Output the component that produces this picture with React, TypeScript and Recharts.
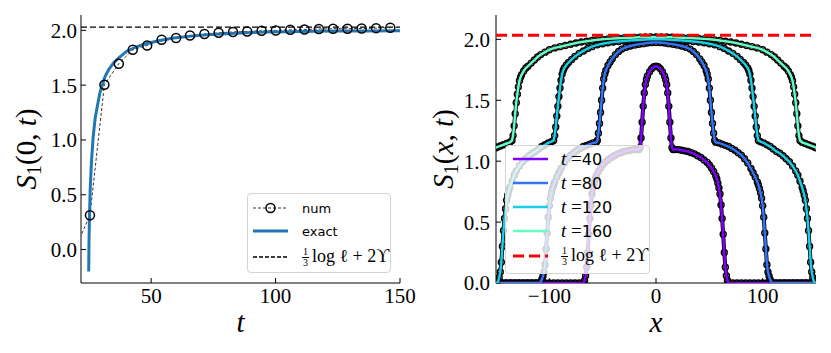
import React from 'react';
import { LineChart, Line, XAxis, YAxis, ReferenceLine } from 'recharts';

const SERIF = '"Liberation Serif", "DejaVu Serif", serif';
const SANS = '"DejaVu Sans", sans-serif';

// ---- left panel: S1(0,t) ----
const numT = [19.65, 25.4, 31.2, 37.0, 42.6, 48.4, 54.2, 60.0, 65.6, 71.4, 77.1, 82.9, 88.6, 94.4, 100.1, 105.9, 111.6, 117.4, 123.1, 128.9, 134.6, 140.4, 146.1];
const numS = [0.02, 0.313, 1.504, 1.696, 1.823, 1.862, 1.914, 1.93, 1.953, 1.966, 1.978, 1.985, 1.99, 1.996, 1.999, 2.005, 2.008, 2.012, 2.015, 2.015, 2.017, 2.02, 2.024];
const exactT = [24.9, 25.0, 25.2, 25.5, 26.0, 26.7, 27.5, 28.3, 29.4, 30.5, 31.5, 33, 34.8, 37, 40.2, 44, 48.3, 53, 59, 65, 72.5, 80, 88, 96, 105, 115, 125, 137, 150];
const exactS = [-0.2, 0.05, 0.3, 0.55, 0.8, 1.03, 1.2, 1.3, 1.43, 1.51, 1.58, 1.645, 1.7, 1.75, 1.81, 1.85, 1.88, 1.905, 1.93, 1.945, 1.96, 1.97, 1.978, 1.984, 1.988, 1.991, 1.993, 1.995, 1.996];
const asymLeft = 2.03;
const leftXDomain = [21.8, 150];
const leftYDomain = [-0.305, 2.14];
const leftXTicks = [50, 100, 150];
const yTicks = [0, 0.5, 1, 1.5, 2];

// ---- right panel: S1(x,t), half profiles for x >= 0 (profiles are symmetric) ----
const halfT40: [number, number][] = [
  [0, 1.78], [2, 1.775], [4, 1.76], [6, 1.735], [8, 1.7], [9, 1.67], [10, 1.63], [11, 1.56], [12, 1.45], [13, 1.32], [14, 1.19], [15, 1.11],
  [16, 1.095], [18, 1.095], [21, 1.095], [24, 1.09], [27, 1.085], [30, 1.08], [33, 1.07], [36, 1.06], [39, 1.045], [42, 1.03], [45, 1.01],
  [48, 0.99], [50, 0.97], [52, 0.945], [54, 0.915], [56, 0.88], [57, 0.855], [58, 0.82], [59, 0.78], [60, 0.73], [61, 0.64], [62, 0.53],
  [63, 0.4], [64, 0.25], [65, 0.13], [66, 0.06], [67, 0.02], [68, 0], [72, 0], [76, 0], [80, 0], [84, 0], [88, 0], [92, 0], [96, 0],
  [100, 0], [104, 0], [108, 0], [112, 0], [116, 0], [120, 0], [124, 0], [128, 0], [132, 0], [136, 0], [140, 0], [144, 0], [148, 0], [150, 0],
];
const halfT80: [number, number][] = [
  [0, 1.975], [4, 1.974], [8, 1.97], [12, 1.965], [16, 1.96], [20, 1.953], [24, 1.945], [28, 1.935], [32, 1.92], [35, 1.9], [38, 1.875],
  [41, 1.84], [43, 1.815], [45, 1.785], [47, 1.745], [48, 1.715], [49, 1.675], [50, 1.6], [51, 1.5], [52, 1.4], [53, 1.31], [54, 1.23],
  [55, 1.17], [56, 1.155], [59, 1.15], [62, 1.14], [65, 1.13], [68, 1.12], [71, 1.105], [74, 1.09], [77, 1.07], [80, 1.05], [83, 1.02],
  [86, 0.985], [89, 0.94], [91, 0.905], [93, 0.87], [95, 0.83], [96, 0.805], [97, 0.775], [98, 0.74], [99, 0.695], [100, 0.635], [101, 0.54],
  [102, 0.41], [103, 0.28], [104, 0.15], [105, 0.09], [106, 0.055], [107, 0.03], [108, 0.01], [109, 0], [113, 0], [117, 0], [121, 0],
  [125, 0], [129, 0], [133, 0], [137, 0], [141, 0], [145, 0], [149, 0], [150, 0],
];
const halfT120: [number, number][] = [
  [0, 2.0], [5, 2.0], [10, 1.998], [15, 1.995], [20, 1.993], [25, 1.99], [30, 1.987], [35, 1.983], [40, 1.978], [45, 1.972], [50, 1.964],
  [55, 1.955], [60, 1.94], [64, 1.925], [68, 1.905], [72, 1.885], [76, 1.86], [79, 1.835], [82, 1.81], [84, 1.79], [86, 1.765], [87, 1.745],
  [88, 1.715], [89, 1.665], [90, 1.6], [91, 1.53], [92, 1.45], [93, 1.37], [94, 1.28], [95, 1.21], [96, 1.17], [98, 1.16], [101, 1.15],
  [104, 1.135], [107, 1.12], [110, 1.1], [113, 1.08], [116, 1.065], [119, 1.045], [122, 1.02], [125, 0.995], [128, 0.96], [131, 0.92],
  [133, 0.885], [135, 0.835], [137, 0.785], [138, 0.755], [139, 0.72], [140, 0.68], [141, 0.61], [142, 0.53], [143, 0.43], [144, 0.3],
  [145, 0.17], [146, 0.09], [147, 0.045], [148, 0.015], [149, 0], [150, 0],
];
const halfT160: [number, number][] = [
  [0, 2.02], [5, 2.02], [10, 2.019], [15, 2.018], [20, 2.016], [25, 2.014], [30, 2.012], [35, 2.01], [40, 2.007], [45, 2.004], [50, 2.0],
  [55, 1.996], [60, 1.991], [65, 1.985], [70, 1.978], [75, 1.97], [80, 1.96], [85, 1.95], [90, 1.94], [95, 1.93], [100, 1.915], [104, 1.895],
  [108, 1.875], [111, 1.855], [114, 1.83], [117, 1.805], [120, 1.78], [122, 1.765], [124, 1.74], [126, 1.71], [127, 1.69], [128, 1.66],
  [129, 1.61], [130, 1.55], [131, 1.48], [132, 1.39], [133, 1.29], [134, 1.21], [135, 1.17], [137, 1.155], [140, 1.145], [143, 1.135],
  [146, 1.125], [149, 1.115], [150, 1.11],
];
const times = [40, 80, 120, 160];
const halves = [halfT40, halfT80, halfT120, halfT160];
const colors = ['#8000ff', '#3374f8', '#1acee3', '#66fcc2'];
const asymRight = 2.033;
const rightXDomain = [-150, 150];
const rightYDomain = [0, 2.2];
const rightXTicks = [-100, 0, 100];

const leftNum = numT.map((t, i) => ({ t, s: numS[i] }));
const leftExact = exactT.map((t, i) => ({ t, s: exactS[i] }));
const mirror = (half: [number, number][]) => [
  ...half.slice(1).map(([x, s]) => ({ x: -x, s })).reverse(),
  ...half.map(([x, s]) => ({ x, s })),
];
const profiles = halves.map(mirror);

const fmtY = (v: number) => v.toFixed(1).replace('-', '\u2212');
const fmtX = (v: number) => String(v).replace('-', '\u2212');
const noTick = () => <g />;
const tickStyle = { fill: '#000', fontSize: 21, fontFamily: SERIF };
const black = { stroke: '#000' };

function YTitle({ viewBox, arg, baseX }: any) {
  const cy = viewBox.y + viewBox.height / 2;
  return (
    <text x={baseX} y={cy} transform={`rotate(-90, ${baseX}, ${cy})`} textAnchor="middle" fontFamily={SERIF} fontSize={29} fill="#000">
      <tspan fontStyle="italic">S</tspan>
      <tspan fontSize={20} dy={5}>1</tspan>
      <tspan dy={-5}>(</tspan>
      <tspan fontStyle={arg === 'x' ? 'italic' : 'normal'}>{arg}</tspan>
      <tspan>, </tspan>
      <tspan fontStyle="italic">t</tspan>
      <tspan>)</tspan>
    </text>
  );
}

function XTitle({ viewBox, name }: any) {
  return (
    <text x={viewBox.x + viewBox.width / 2} y={viewBox.y + 49} textAnchor="middle" fontFamily={SERIF} fontStyle="italic" fontSize={29} fill="#000">
      {name}
    </text>
  );
}

const numDot = (p: any) =>
  p.payload.t < leftXDomain[0] ? (
    <g key={`nd${p.index}`} />
  ) : (
    <circle key={`nd${p.index}`} cx={p.cx} cy={p.cy} r={4.5} fill="none" stroke="#000" strokeWidth={1.5} />
  );

function Third() {
  return (
    <span style={{ display: 'inline-flex', flexDirection: 'column', alignItems: 'center', fontSize: 10, lineHeight: '10px', verticalAlign: 'middle', marginRight: 3 }}>
      <span>1</span>
      <span style={{ borderTop: '0.8px solid #000', padding: '0 1px' }}>3</span>
    </span>
  );
}

const asymText = (
  <span style={{ fontFamily: SERIF, fontSize: 18 }}>
    <Third />log ℓ + 2ϒ
  </span>
);

function Row({ top, handle, textLeft, children }: any) {
  return (
    <div style={{ position: 'absolute', left: 0, top: top - 10, height: 20, width: '100%' }}>
      <svg width={40} height={20} style={{ position: 'absolute', left: 4, top: 0 }}>{handle}</svg>
      <div style={{ position: 'absolute', left: textLeft, top: 0, height: 20, display: 'flex', alignItems: 'center', whiteSpace: 'nowrap' }}>{children}</div>
    </div>
  );
}

const boxStyle: React.CSSProperties = {
  position: 'absolute',
  border: '1px solid #d4d4d4',
  borderRadius: 4,
  background: 'rgba(255,255,255,0.8)',
  boxSizing: 'border-box',
};

export default function App() {
  return (
    <div style={{ position: 'absolute', left: 0, top: 0, width: 831, height: 353, background: '#fff', overflow: 'hidden' }}>
      <div style={{ position: 'absolute', left: 0, top: 0 }}>
        <LineChart width={420} height={353} margin={{ top: 15, right: 20, bottom: 0, left: 0 }}>
          <XAxis dataKey="t" type="number" domain={leftXDomain} allowDataOverflow ticks={leftXTicks} interval={0}
            tickSize={-5} tickMargin={10} tick={tickStyle} tickLine={black} axisLine={black} height={70}
            label={(p: any) => <XTitle {...p} name="t" />} />
          <XAxis xAxisId="top" orientation="top" dataKey="t" type="number" domain={leftXDomain} allowDataOverflow ticks={leftXTicks}
            interval={0} tickSize={-5} tick={noTick} tickLine={black} axisLine={black} height={0} />
          <YAxis type="number" domain={leftYDomain} allowDataOverflow ticks={yTicks} interval={0} tickFormatter={fmtY}
            tickSize={-5} tickMargin={9} tick={tickStyle} tickLine={black} axisLine={black} width={81}
            label={(p: any) => <YTitle {...p} arg="0" baseX={36} />} />
          <YAxis yAxisId="right" orientation="right" type="number" domain={leftYDomain} allowDataOverflow ticks={yTicks} interval={0}
            tickSize={-5} tick={noTick} tickLine={black} axisLine={black} width={0} />
          <ReferenceLine y={asymLeft} stroke="#000" strokeWidth={1.2} strokeDasharray="6 3" />
          <Line data={leftNum} dataKey="s" type="linear" stroke="#000" strokeWidth={0.8} strokeDasharray="3 2" dot={numDot} isAnimationActive={false} />
          <Line data={leftExact} dataKey="s" type="linear" stroke="#1f77b4" strokeWidth={3} dot={false} isAnimationActive={false} />
        </LineChart>
      </div>

      {/* right panel, bottom layer: axes and numerical data (black markers) */}
      <div style={{ position: 'absolute', left: 420, top: 0 }}>
        <LineChart width={411} height={353} margin={{ top: 15, right: 15, bottom: 0, left: 0 }}>
          <XAxis dataKey="x" type="number" domain={rightXDomain} allowDataOverflow ticks={rightXTicks} interval={0} tickFormatter={fmtX}
            tickSize={-5} tickMargin={10} tick={tickStyle} tickLine={black} axisLine={black} height={70}
            label={(p: any) => <XTitle {...p} name="x" />} />
          <XAxis xAxisId="top" orientation="top" dataKey="x" type="number" domain={rightXDomain} allowDataOverflow ticks={rightXTicks}
            interval={0} tickSize={-5} tick={noTick} tickLine={black} axisLine={black} height={0} />
          <YAxis type="number" domain={rightYDomain} allowDataOverflow ticks={yTicks} interval={0} tickFormatter={fmtY}
            tickSize={-5} tickMargin={11} tick={tickStyle} tickLine={black} axisLine={black} width={76}
            label={(p: any) => <YTitle {...p} arg="x" baseX={33} />} />
          <YAxis yAxisId="right" orientation="right" type="number" domain={rightYDomain} allowDataOverflow ticks={yTicks} interval={0}
            tickSize={-5} tick={noTick} tickLine={black} axisLine={black} width={0} />
          {profiles.map((d, i) => (
            <Line key={`num${times[i]}`} data={d} dataKey="s" type="linear" stroke="#000" strokeWidth={4}
              dot={{ r: 3, stroke: '#000', strokeWidth: 1.4, fill: 'none' }} isAnimationActive={false} />
          ))}
        </LineChart>
      </div>

      {/* right panel, top layer: exact curves and asymptote, same plot area */}
      <div style={{ position: 'absolute', left: 420, top: 0, pointerEvents: 'none' }}>
        <LineChart width={411} height={353} margin={{ top: 15, right: 15, bottom: 70, left: 76 }}>
          <XAxis hide dataKey="x" type="number" domain={rightXDomain} allowDataOverflow />
          <YAxis hide type="number" domain={rightYDomain} allowDataOverflow />
          {profiles.map((d, i) => (
            <Line key={`ex${times[i]}`} data={d} dataKey="s" type="linear" stroke={colors[i]} strokeWidth={2.5} dot={false} isAnimationActive={false} />
          ))}
          <ReferenceLine y={asymRight} stroke="#ff0000" strokeWidth={3} strokeDasharray="11 5" />
        </LineChart>
      </div>

      <div style={{ ...boxStyle, left: 247, top: 193, width: 144, height: 80 }}>
        <Row top={14} textLeft={54} handle={
          <g>
            <line x1={1} x2={36} y1={10} y2={10} stroke="#000" strokeWidth={0.8} strokeDasharray="3 2" />
            <circle cx={18.5} cy={10} r={4.5} fill="none" stroke="#000" strokeWidth={1.5} />
          </g>
        }>
          <span style={{ fontFamily: SANS, fontSize: 13 }}>num</span>
        </Row>
        <Row top={37} textLeft={54} handle={<line x1={1} x2={36} y1={10} y2={10} stroke="#1f77b4" strokeWidth={3} />}>
          <span style={{ fontFamily: SANS, fontSize: 13 }}>exact</span>
        </Row>
        <Row top={63} textLeft={54} handle={<line x1={1} x2={36} y1={10} y2={10} stroke="#000" strokeWidth={1.5} strokeDasharray="4 2" />}>
          {asymText}
        </Row>
      </div>

      <div style={{ ...boxStyle, left: 505, top: 145, width: 145, height: 129 }}>
        {times.map((t, i) => (
          <Row key={t} top={13 + i * 24} textLeft={55} handle={<line x1={3} x2={38} y1={10} y2={10} stroke={colors[i]} strokeWidth={2.5} />}>
            <span style={{ fontFamily: SERIF, fontSize: 19, fontStyle: 'italic' }}>t</span>
            <span style={{ fontFamily: SERIF, fontSize: 19 }}>&nbsp;=</span>
            <span style={{ fontFamily: SANS, fontSize: 16 }}>{t}</span>
          </Row>
        ))}
        <Row top={110} textLeft={55} handle={<line x1={3} x2={38} y1={10} y2={10} stroke="#ff0000" strokeWidth={3} strokeDasharray="11 5" />}>
          {asymText}
        </Row>
      </div>
    </div>
  );
}
